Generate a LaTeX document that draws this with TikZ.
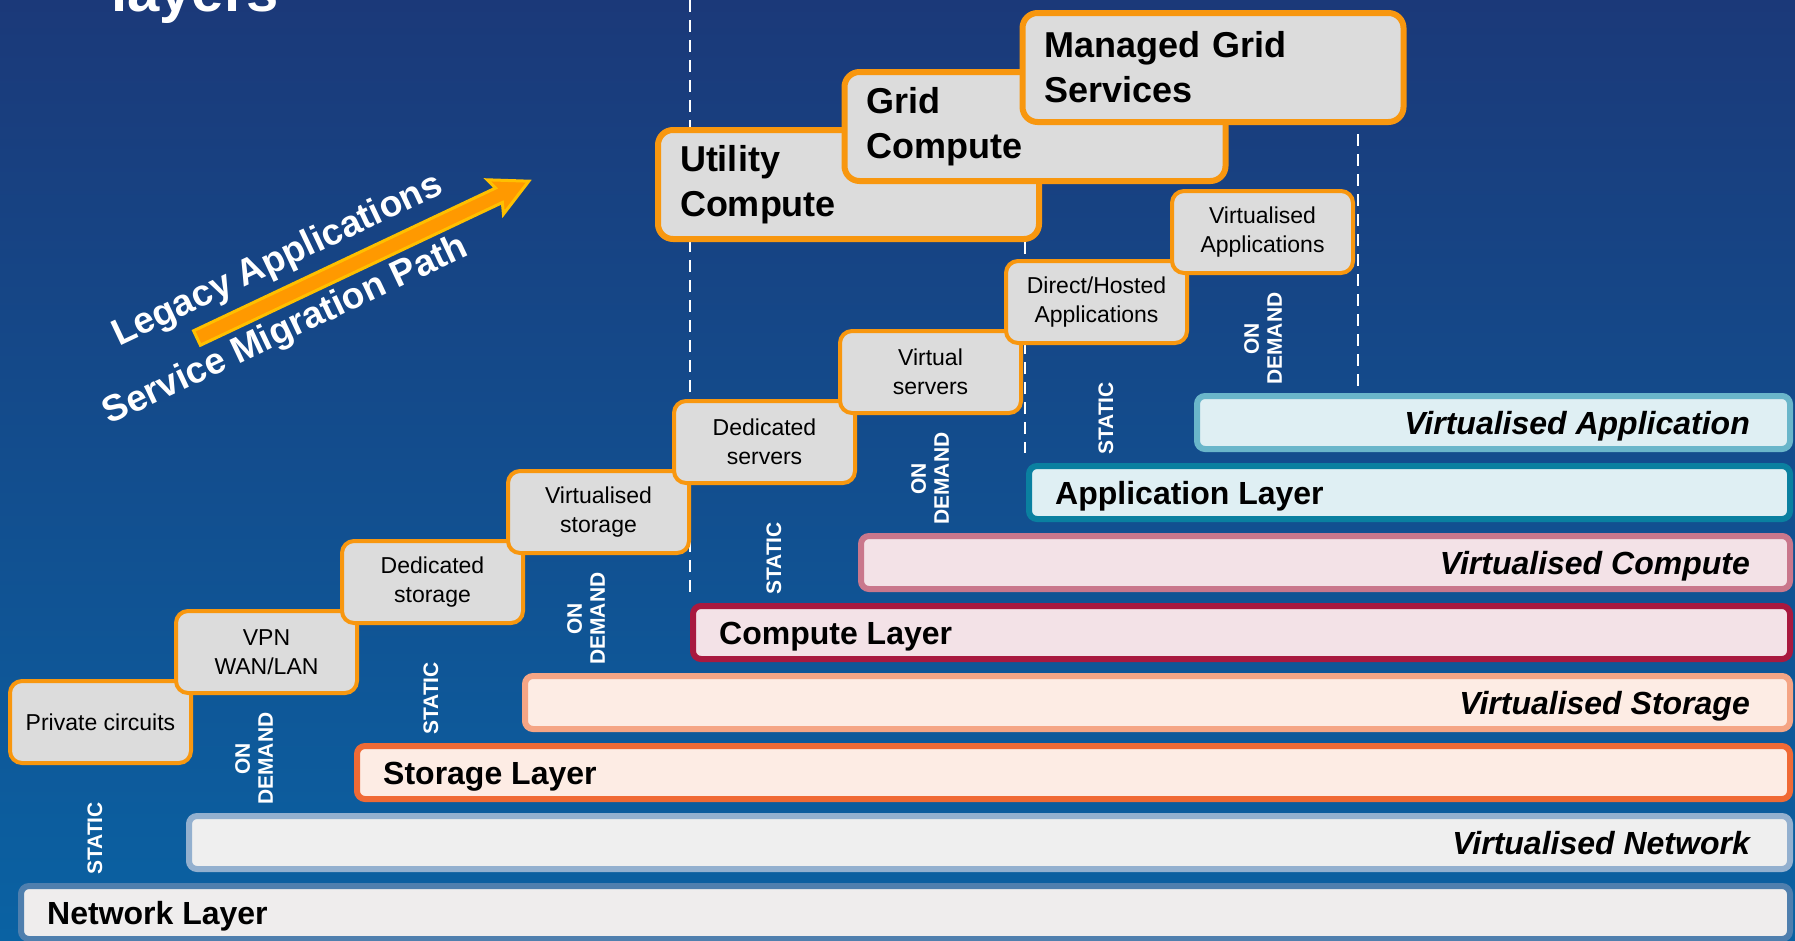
\documentclass[tikz,border=0pt]{standalone}
\usepackage{fontspec}
\setmainfont{Liberation Sans}
\usetikzlibrary{positioning}
\definecolor{bgtop}{HTML}{1B3979}
\definecolor{bgmid}{HTML}{17407F}
\definecolor{bgbot}{HTML}{0A62A3}
\definecolor{stepline}{HTML}{F8970F}
\definecolor{stepfill}{HTML}{DCDCDC}
\definecolor{netline}{HTML}{4F7FAE}
\definecolor{netfill}{HTML}{EFEDED}
\definecolor{vnetline}{HTML}{93B0CF}
\definecolor{vnetfill}{HTML}{EFEFEF}
\definecolor{stoline}{HTML}{F06A35}
\definecolor{stofill}{HTML}{FDECE4}
\definecolor{vstoline}{HTML}{F5A585}
\definecolor{comline}{HTML}{A8193F}
\definecolor{comfill}{HTML}{F3E2E7}
\definecolor{vcomline}{HTML}{C9778C}
\definecolor{appline}{HTML}{0A80A0}
\definecolor{appfill}{HTML}{DFEFF3}
\definecolor{vappline}{HTML}{6AB6CA}
\definecolor{arrowyel}{HTML}{FFC000}
\definecolor{arroworg}{HTML}{FF9900}

\begin{document}
\begin{tikzpicture}[x=1pt,y=-1pt,
  bar/.style={rectangle,rounded corners=8pt,line width=6pt,minimum height=53pt,anchor=north west,inner sep=0pt,outer sep=0pt},
  bartext/.style={inner sep=0pt,font=\fontsize{32}{38}\selectfont\bfseries},
  virttext/.style={inner sep=0pt,font=\fontsize{32}{38}\selectfont\bfseries\itshape},
  stepbox/.style={rectangle,rounded corners=12pt,line width=4pt,draw=stepline,fill=stepfill,minimum width=181pt,minimum height=82pt,align=center,inner sep=0pt,font=\fontsize{23}{29.5}\selectfont},
  bigbox/.style={rectangle,rounded corners=15pt,line width=6pt,draw=stepline,fill=stepfill,minimum width=381pt,minimum height=109pt,text width=337pt,inner xsep=22pt,inner ysep=0pt,align=left,font=\fontsize{36}{45}\selectfont\bfseries},
  modelabel/.style={rotate=90,anchor=west,text=white,align=center,inner sep=0pt,font=\fontsize{21}{23}\selectfont\bfseries},
  stagepath/.style={white,line width=2.5pt,dash pattern=on 12pt off 8pt}]
\useasboundingbox (0,0) rectangle (1795,940);
\clip (0,0) rectangle (1795,940);
\shade[top color=bgtop,middle color=bgmid,bottom color=bgbot] (0,0) rectangle (1795,940);

\node[anchor=base west,inner sep=0pt,text=white,font=\fontsize{58}{64}\selectfont\bfseries] (title) at (111,11) {layers};

% stage borders
\coordinate (cut1top) at (690,0);
\coordinate (cut1bot) at (690,595);
\coordinate (cut2top) at (1025,242);
\coordinate (cut2bot) at (1025,453);
\coordinate (cut3top) at (1358,134);
\coordinate (cut3bot) at (1358,386);
\draw[stagepath] (cut1top) -- (cut1bot);
\draw[stagepath] (cut2top) -- (cut2bot);
\draw[stagepath] (cut3top) -- (cut3bot);

% layers
\node[bar,draw=netline,fill=netfill,minimum width=1769pt] (net) at (21,886) {};
\node[bar,draw=vnetline,fill=vnetfill,minimum width=1601pt] (vnet) at (189,816) {};
\node[bar,draw=stoline,fill=stofill,minimum width=1433pt] (sto) at (357,746) {};
\node[bar,draw=vstoline,fill=stofill,minimum width=1265pt] (vsto) at (525,676) {};
\node[bar,draw=comline,fill=comfill,minimum width=1097pt] (com) at (693,606) {};
\node[bar,draw=vcomline,fill=comfill,minimum width=929pt] (vcom) at (861,536) {};
\node[bar,draw=appline,fill=appfill,minimum width=761pt] (app) at (1029,466) {};
\node[bar,draw=vappline,fill=appfill,minimum width=593pt] (vapp) at (1197,396) {};

\node[bartext,anchor=base west] (netname) at ([xshift=26pt,yshift=-11.5pt]net.west) {Network Layer};
\node[virttext,anchor=base east] (vnetname) at ([xshift=-40pt,yshift=-11.5pt]vnet.east) {Virtualised Network};
\node[bartext,anchor=base west] (stoname) at ([xshift=26pt,yshift=-11.5pt]sto.west) {Storage Layer};
\node[virttext,anchor=base east] (vstoname) at ([xshift=-40pt,yshift=-11.5pt]vsto.east) {Virtualised Storage};
\node[bartext,anchor=base west] (comname) at ([xshift=26pt,yshift=-11.5pt]com.west) {Compute Layer};
\node[virttext,anchor=base east] (vcomname) at ([xshift=-40pt,yshift=-11.5pt]vcom.east) {Virtualised Compute};
\node[bartext,anchor=base west] (appname) at ([xshift=26pt,yshift=-11.5pt]app.west) {Application Layer};
\node[virttext,anchor=base east] (vappname) at ([xshift=-40pt,yshift=-11.5pt]vapp.east) {Virtualised Application};

% static / on demand
\node[modelabel] (static1) at (95,875) {STATIC};
\node[modelabel] (demand1) at (254,805) {ON\\DEMAND};
\node[modelabel] (static2) at (431,735) {STATIC};
\node[modelabel] (demand2) at (586,665) {ON\\DEMAND};
\node[modelabel] (static3) at (774,595) {STATIC};
\node[modelabel] (demand3) at (930,525) {ON\\DEMAND};
\node[modelabel] (static4) at (1106,455) {STATIC};
\node[modelabel] (demand4) at (1263,385) {ON\\DEMAND};

% steps
\node[stepbox] (circ) at (100.5,722) {Private circuits};
\node[stepbox] (vpn) at (266.5,652) {VPN\\WAN/LAN};
\node[stepbox] (dstor) at (432.5,582) {Dedicated\\storage};
\node[stepbox] (vstor) at (598.5,512) {Virtualised\\storage};
\node[stepbox] (dserv) at (764.5,442) {Dedicated\\servers};
\node[stepbox] (vserv) at (930.5,372) {Virtual\\servers};
\node[stepbox] (hosted) at (1096.5,302) {Direct/Hosted\\Applications};
\node[stepbox] (vapps) at (1262.5,232) {Virtualised\\Applications};

\node[bigbox] (utility) at (848.5,184.5) {Utility\\Compute};
\node[bigbox] (grid) at (1035,126.5) {Grid\\Compute};
\node[bigbox] (managed) at (1213,67.5) {Managed Grid\\Services};

% migration arrow
\coordinate (migtail) at (197,338);
\begin{scope}[shift={(migtail)},rotate=25.3]
\filldraw[draw=arrowyel,fill=arroworg,line width=3pt,line join=miter] (0,-8) -- (334,-8) -- (330,-19) -- (367,0) -- (330,19) -- (334,8) -- (0,8) -- cycle;
\end{scope}
\node[rotate=25.3,text=white,inner sep=0pt,font=\fontsize{37}{42}\selectfont\bfseries] (legacy) at (278,261) {Legacy Applications};
\node[rotate=25.3,text=white,inner sep=0pt,font=\fontsize{37}{42}\selectfont\bfseries] (service) at (286,331) {Service Migration Path};
\end{tikzpicture}
\end{document}
